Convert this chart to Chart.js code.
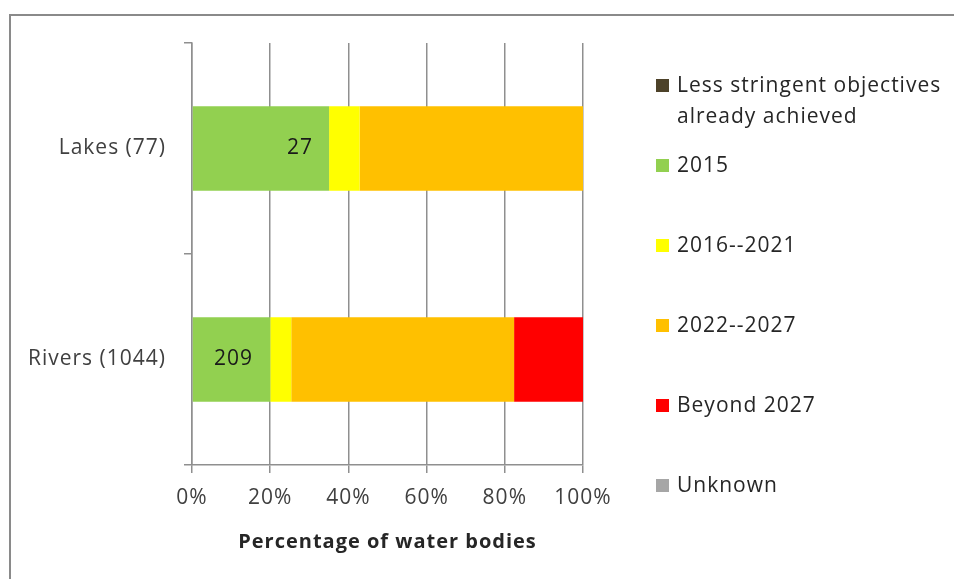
<!DOCTYPE html>
<html>
<head>
<meta charset="utf-8">
<script src="https://cdn.jsdelivr.net/npm/chart.js@4.4.1/dist/chart.umd.min.js"></script>
<style>
  html, body { margin: 0; padding: 0; background: #ffffff; }
  #wrap { position: relative; width: 954px; height: 579px; overflow: hidden; }
  #frame { position: absolute; left: 9px; top: 14px; width: 960px; height: 600px;
           border-top: 2px solid #8a8a8a; border-left: 2px solid #8a8a8a; box-sizing: border-box; }
  canvas { position: absolute; left: 0; top: 0; }
</style>
</head>
<body>
<div id="wrap">
  <div id="frame"></div>
  <canvas id="c" width="954" height="579"></canvas>
</div>
<script>
// ---- data ----
const categories = ['Lakes (77)', 'Rivers (1044)'];
const totals = [77, 1044];
const seriesNames = ['Less stringent objectives already achieved', '2015', '2016--2021', '2022--2027', 'Beyond 2027', 'Unknown'];
const lessStringent = [0, 0];
const y2015 = [27, 209];
const y2016_2021 = [6, 56];
const y2022_2027 = [44, 595];
const beyond2027 = [0, 184];
const unknown = [0, 0];
const xTicks = [0, 20, 40, 60, 80, 100];
const xTitle = 'Percentage of water bodies';

const seriesCounts = [lessStringent, y2015, y2016_2021, y2022_2027, beyond2027, unknown];
const seriesColors = ['#4d4229', '#92d050', '#ffff00', '#ffc000', '#ff0000', '#a6a6a6'];

const FONT = '"Open Sans", Lato, sans-serif';
const FS = 21;

const datasets = seriesNames.map((name, i) => ({
  label: name,
  counts: seriesCounts[i],
  data: seriesCounts[i].map((v, j) => v / totals[j] * 100),
  backgroundColor: seriesColors[i],
  borderWidth: 0,
  categoryPercentage: 1.0,
  barPercentage: 0.4
}));

const spacingPlugin = {
  id: 'spacing',
  beforeDraw(chart) { chart.ctx.letterSpacing = '1px'; }
};

// data labels for the 2015 series (counts)
const labelPlugin = {
  id: 'countLabels',
  afterDatasetsDraw(chart) {
    const ctx = chart.ctx;
    const dsIndex = 1;
    const meta = chart.getDatasetMeta(dsIndex);
    const ds = chart.data.datasets[dsIndex];
    const anchor = ['end', 'center'];
    ctx.save();
    ctx.font = FS + 'px ' + FONT;
    ctx.fillStyle = '#1a1a1a';
    ctx.textAlign = 'center';
    ctx.textBaseline = 'middle';
    meta.data.forEach((bar, j) => {
      const v = ds.counts[j];
      if (!v) return;
      const left = bar.base, right = bar.x;
      const x = anchor[j] === 'end' ? right - 29 : (left + right) / 2 + 2;
      ctx.fillText(String(v), x, bar.y);
    });
    ctx.restore();
  }
};

// custom right-hand legend
const legendPlugin = {
  id: 'sideLegend',
  afterDraw(chart) {
    const ctx = chart.ctx;
    ctx.save();
    ctx.letterSpacing = '1px';
    ctx.font = FS + 'px ' + FONT;
    ctx.textBaseline = 'middle';
    const sqX = 656, txtX = 677, y0 = 86, step = 80, lineH = 31, maxW = 272;
    chart.data.datasets.forEach((ds, i) => {
      const y = y0 + step * i;
      const words = ds.label.split(' ');
      const lines = [];
      let cur = '';
      words.forEach(w => {
        const t = cur ? cur + ' ' + w : w;
        if (ctx.measureText(t).width > maxW && cur) { lines.push(cur); cur = w; }
        else cur = t;
      });
      lines.push(cur);
      ctx.fillStyle = ds.backgroundColor;
      ctx.fillRect(sqX, y - 7, 13, 13);
      ctx.fillStyle = '#262626';
      lines.forEach((ln, k) => ctx.fillText(ln, txtX, y + k * lineH));
    });
    ctx.restore();
  }
};

new Chart(document.getElementById('c'), {
  type: 'bar',
  data: { labels: categories, datasets },
  options: {
    indexAxis: 'y',
    responsive: false,
    animation: false,
    layout: { padding: { left: 0, right: 371, top: 43, bottom: 0 } },
    plugins: { legend: { display: false }, tooltip: { enabled: false } },
    scales: {
      x: {
        stacked: true,
        min: 0, max: 100,
        afterBuildTicks(scale) { scale.ticks = xTicks.map(v => ({ value: v })); },
        afterFit(scale) { scale.height = 114; },
        grid: { color: '#8f8f8f', lineWidth: 1.5, tickLength: 8, drawTicks: true },
        border: { display: true, color: '#8f8f8f', width: 1.5 },
        ticks: {
          callback: v => v + '%',
          font: { family: FONT, size: FS },
          color: '#404040',
          padding: 12,
          maxRotation: 0
        },
        title: {
          display: true,
          text: xTitle,
          font: { family: FONT, size: 20, weight: 'bold' },
          color: '#262626',
          padding: { top: 4, bottom: 25 }
        }
      },
      y: {
        stacked: true,
        offset: true,
        afterFit(scale) { scale.width = 192; },
        grid: { display: true, drawOnChartArea: false, offset: true, color: '#8f8f8f', lineWidth: 1.5, tickLength: 8 },
        border: { display: true, color: '#8f8f8f', width: 1.5 },
        ticks: {
          font: { family: FONT, size: FS },
          color: '#404040',
          padding: 18
        }
      }
    }
  },
  plugins: [spacingPlugin, labelPlugin, legendPlugin]
});
</script>
</body>
</html>
